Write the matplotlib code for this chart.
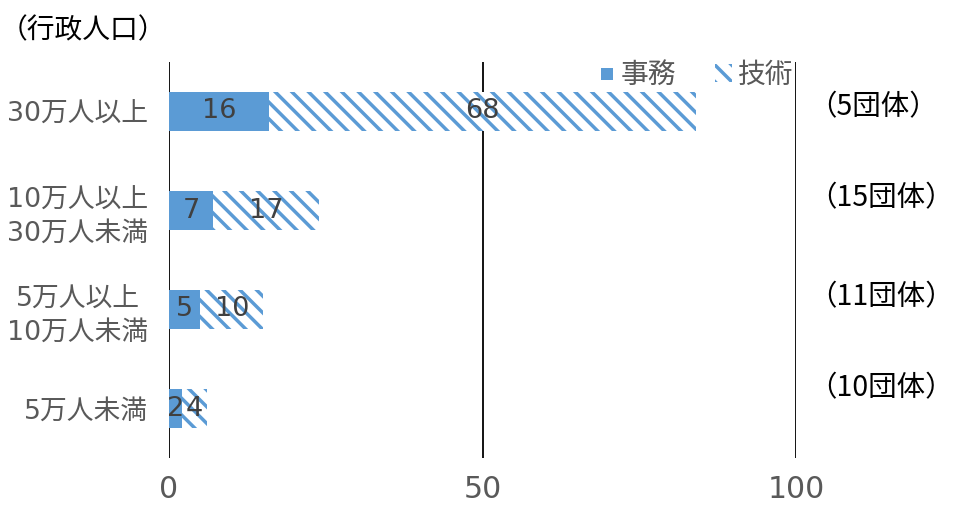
import numpy as np
import matplotlib
matplotlib.use('Agg')
import matplotlib.pyplot as plt
from matplotlib.patches import Patch
from matplotlib.lines import Line2D

plt.rcParams['font.family'] = ['DejaVu Sans', 'Noto Sans CJK JP']
plt.rcParams['hatch.linewidth'] = 2.5
cjk = ['Noto Sans CJK JP', 'DejaVu Sans']

# data
categories = ['30万人以上', '10万人以上\n30万人未満', '5万人以上\n10万人未満', '5万人未満']
jimu = [16, 7, 5, 2]
gijutsu = [68, 17, 10, 4]
counts = ['（5団体）', '（15団体）', '（11団体）', '（10団体）']

blue = '#5B9BD5'
gray = '#595959'

fig = plt.figure(figsize=(9.57, 5.12), dpi=100)
ax = fig.add_axes([169/957, 1 - 458/512, (796 - 169)/957, 396/512])

y = np.arange(len(categories))
h = 0.39
ax.barh(y, jimu, height=h, color=blue, linewidth=0, label='事務')
ax.barh(y, gijutsu, left=jimu, height=h, color='white', edgecolor=blue,
        linewidth=0, hatch='\\\\', label='技術')

for i in range(len(y)):
    ax.text(jimu[i] / 2, y[i], str(jimu[i]), ha='center', va='center',
            fontsize=19.5, color='#404040')
    ax.text(jimu[i] + gijutsu[i] / 2, y[i], str(gijutsu[i]), ha='center',
            va='center', fontsize=19.5, color='#404040')

ax.set_xlim(0, 100)
ax.set_ylim(3.5, -0.5)
ax.set_xticks([0, 50, 100])
ax.set_yticks(y)
ax.set_yticklabels(categories, multialignment='center', linespacing=1.35)
ax.tick_params(axis='both', length=0, labelcolor=gray)
ax.tick_params(axis='x', pad=12, labelsize=21.5)
ax.tick_params(axis='y', pad=15, labelsize=19.3)
ax.grid(axis='x', color='black', linewidth=1.3)
ax.set_axisbelow(True)
for s in ax.spines.values():
    s.set_visible(False)

# group counts on the right
count_y = [-0.045, 0.874, 1.874, 2.793]
for t, yy in zip(counts, count_y):
    ax.text(101.9, yy, t, ha='left', va='center', fontsize=20.5, color='black',
            family=cjk, clip_on=False)

fig.text(0.0, 1 - 30/512, '（行政人口）', ha='left', va='center', fontsize=20,
         color='black', family=cjk)

handles = [Line2D([], [], marker='s', linestyle='none', markersize=9,
                  markerfacecolor=blue, markeredgewidth=0),
           Patch(facecolor='white', edgecolor=blue, linewidth=0, hatch='\\\\')]
fig.legend(handles, ['事務', '技術'], loc='center', ncol=2, frameon=False,
           bbox_to_anchor=(696/957, 1 - 75/512), fontsize=20, labelcolor=gray,
           handlelength=0.6, handleheight=0.6, handletextpad=0.2,
           columnspacing=1.4, borderpad=0)

fig.savefig('out.png', dpi=100)
